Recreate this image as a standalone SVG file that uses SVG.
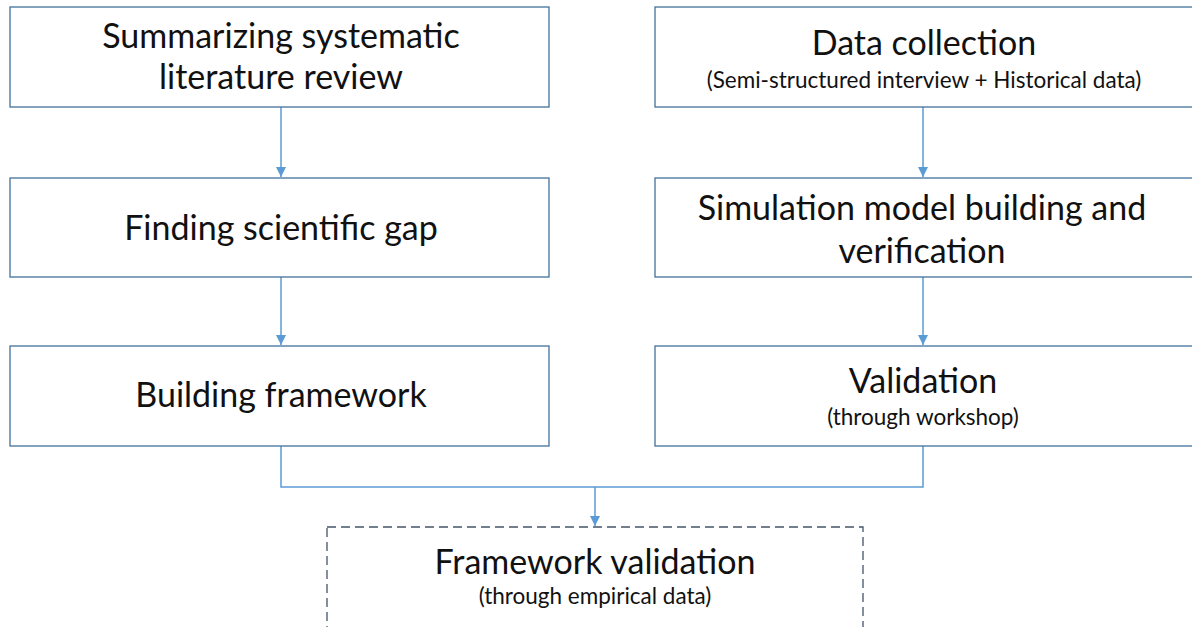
<svg xmlns="http://www.w3.org/2000/svg" width="1192" height="627" viewBox="0 0 1192 627">
<defs>
<style>
.box{fill:#ffffff;stroke:#41719c;stroke-width:1.3}
.dash{fill:#ffffff;stroke:#44546a;stroke-width:1.3;stroke-dasharray:9 5}
.t{font-family:Lato,"Open Sans",sans-serif;font-size:34px;fill:#111;text-anchor:middle}
.s{font-family:Lato,"Open Sans",sans-serif;font-size:22.5px;fill:#111;text-anchor:middle}
.c{fill:none;stroke:#5b9bd5;stroke-width:1.5}
</style>
<marker id="ah" markerWidth="10" markerHeight="10" refX="10" refY="5" orient="auto" markerUnits="userSpaceOnUse" viewBox="0 0 10 10">
<path d="M0,0 L10,5 L0,10 z" fill="#5b9bd5"/>
</marker>
</defs>
<rect width="1192" height="627" fill="#ffffff"/>
<g id="connectors">
<line class="c" x1="281" y1="107" x2="281" y2="177" marker-end="url(#ah)"/>
<line class="c" x1="281" y1="277" x2="281" y2="345" marker-end="url(#ah)"/>
<line class="c" x1="923" y1="107" x2="923" y2="177" marker-end="url(#ah)"/>
<line class="c" x1="923" y1="277" x2="923" y2="345" marker-end="url(#ah)"/>
<polyline class="c" points="281,446 281,487 923,487 923,446"/>
<line class="c" x1="595" y1="487" x2="595" y2="526" marker-end="url(#ah)"/>
</g>
<g id="n1">
<rect class="box" x="10" y="7" width="539" height="100"/>
<text class="t" x="281" y="48">Summarizing systematic</text>
<text class="t" x="281" y="89">literature review</text>
</g>
<g id="n2">
<rect class="box" x="10" y="178" width="539" height="99"/>
<text class="t" x="281" y="240">Finding scientific gap</text>
</g>
<g id="n3">
<rect class="box" x="10" y="346" width="539" height="100"/>
<text class="t" x="281" y="407">Building framework</text>
</g>
<g id="n4">
<rect class="box" x="655" y="7" width="545" height="100"/>
<text class="t" x="924" y="55">Data collection</text>
<text class="s" x="924" y="88">(Semi-structured interview + Historical data)</text>
</g>
<g id="n5">
<rect class="box" x="655" y="178" width="545" height="99"/>
<text class="t" x="922" y="220">Simulation model building and</text>
<text class="t" x="922" y="263">verification</text>
</g>
<g id="n6">
<rect class="box" x="655" y="346" width="545" height="100"/>
<text class="t" x="923" y="393">Validation</text>
<text class="s" x="923" y="425">(through workshop)</text>
</g>
<g id="n7">
<rect class="dash" x="327" y="527" width="536" height="120"/>
<text class="t" x="595" y="574">Framework validation</text>
<text class="s" x="595" y="604">(through empirical data)</text>
</g>
</svg>
